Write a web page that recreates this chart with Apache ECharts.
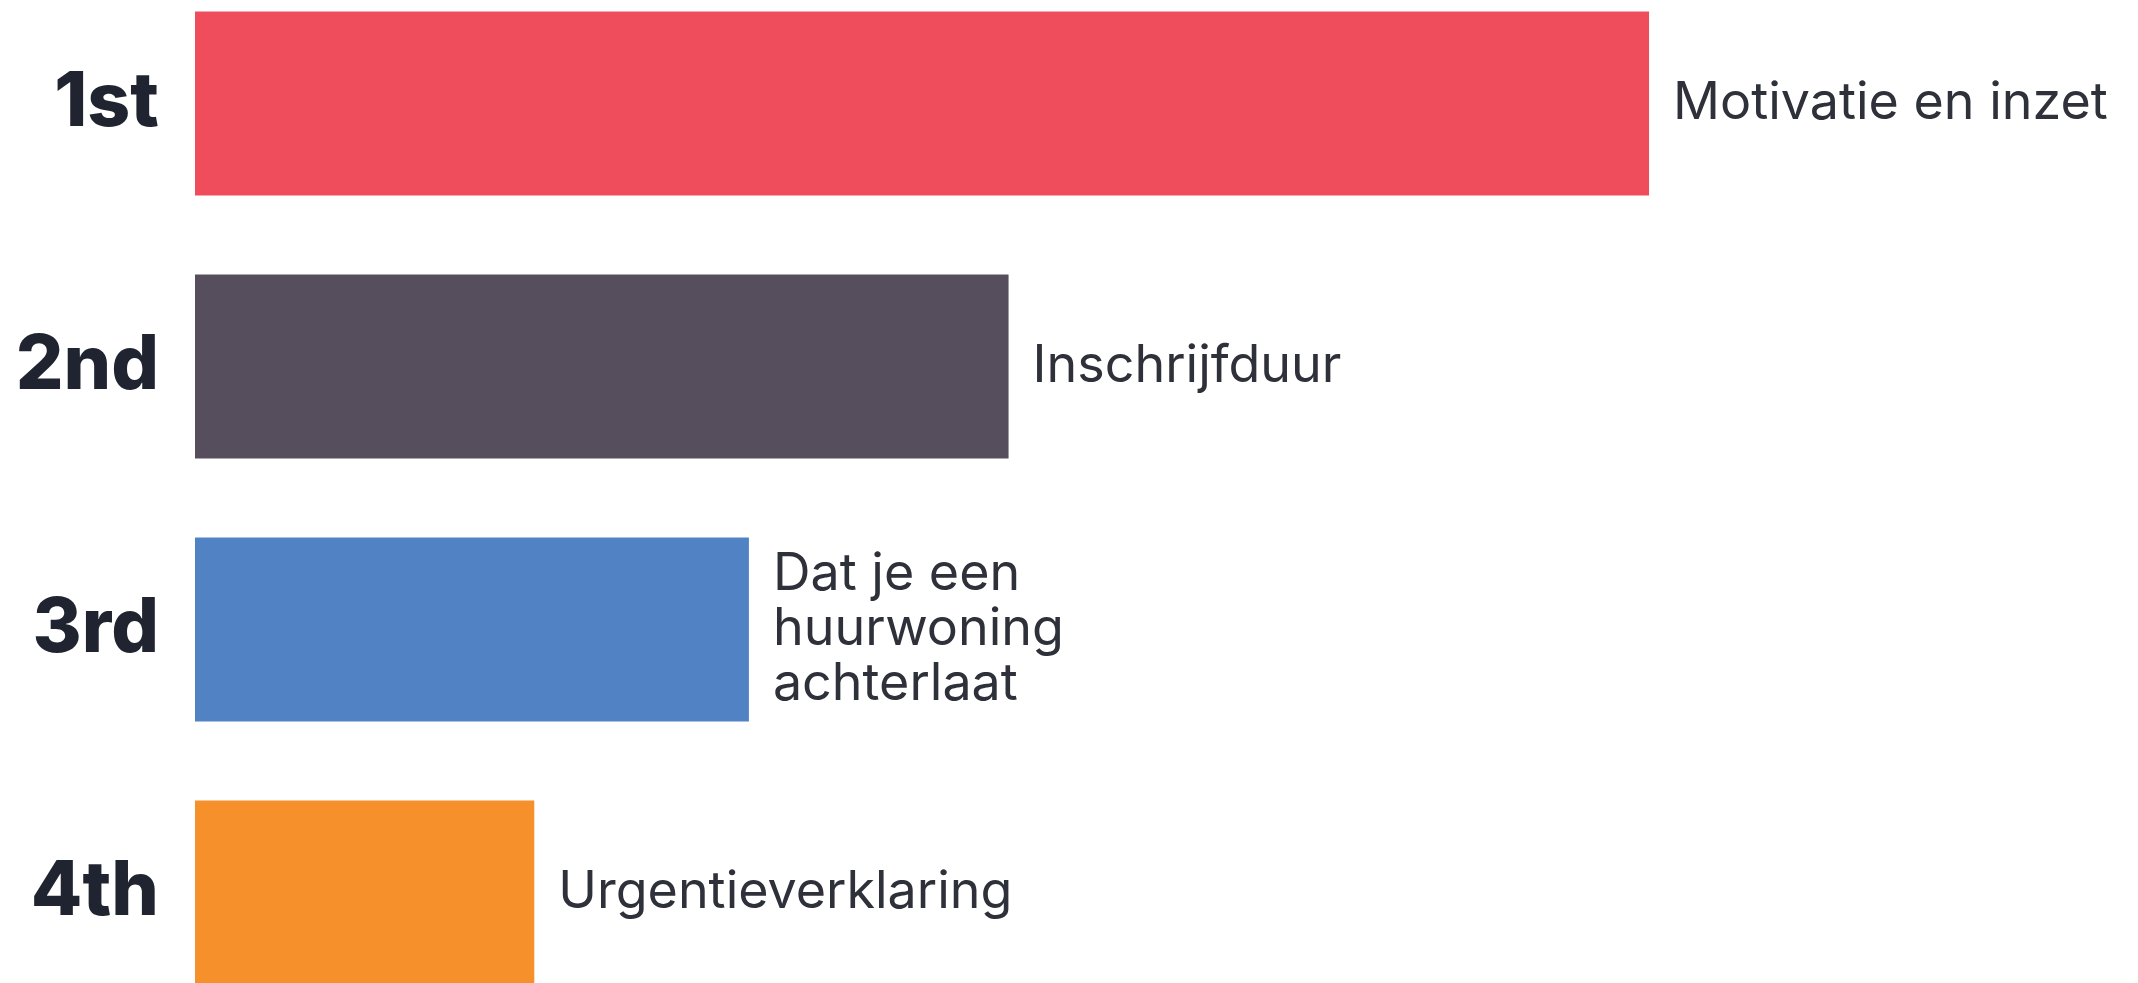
<!DOCTYPE html>
<html>
<head>
<meta charset="utf-8">
<script src="https://cdn.jsdelivr.net/npm/echarts@6/dist/echarts.min.js"></script>
<style>
  html, body { margin: 0; padding: 0; background: #fff; }
  #chart { width: 2138px; height: 983px; }
</style>
</head>
<body>
<div id="chart"></div>
<script>
// rangorde, boven naar beneden
var ranks = ['1st', '2nd', '3rd', '4th'];
var reasons = ['Motivatie en inzet', 'Inschrijfduur', 'Dat je een\nhuurwoning\nachterlaat', 'Urgentieverklaring'];
var scores = [42, 23.5, 16, 9.8];
var barColors = ['#ef4d5b', '#564e5c', '#5183c4', '#f5902b'];

var myChart = echarts.init(document.getElementById('chart'));

var option = {
    animation: false,
    grid: {
        left: 195, right: 212, top: -28, bottom: -41,
        containLabel: false,
        outerBoundsMode: 'none'
    },
    xAxis: {
        type: 'value',
        min: 0,
        max: 50,
        show: false
    },
    yAxis: {
        type: 'category',
        data: ranks,
        inverse: true,
        axisLine: { show: false },
        axisTick: { show: false },
        axisLabel: {
            margin: 36,
            color: '#1f2430',
            fontFamily: 'Inter',
            fontWeight: 800,
            fontSize: 75
        }
    },
    series: [{
        type: 'bar',
        barCategoryGap: '30%',
        data: scores.map(function (v, i) {
            return { value: v, itemStyle: { color: barColors[i] } };
        }),
        label: {
            show: true,
            position: 'right',
            distance: 24,
            color: '#2e3139',
            fontFamily: 'Inter',
            fontSize: 52,
            lineHeight: 55,
            formatter: function (p) { return reasons[p.dataIndex]; }
        }
    }]
};

myChart.setOption(option);
</script>
</body>
</html>
